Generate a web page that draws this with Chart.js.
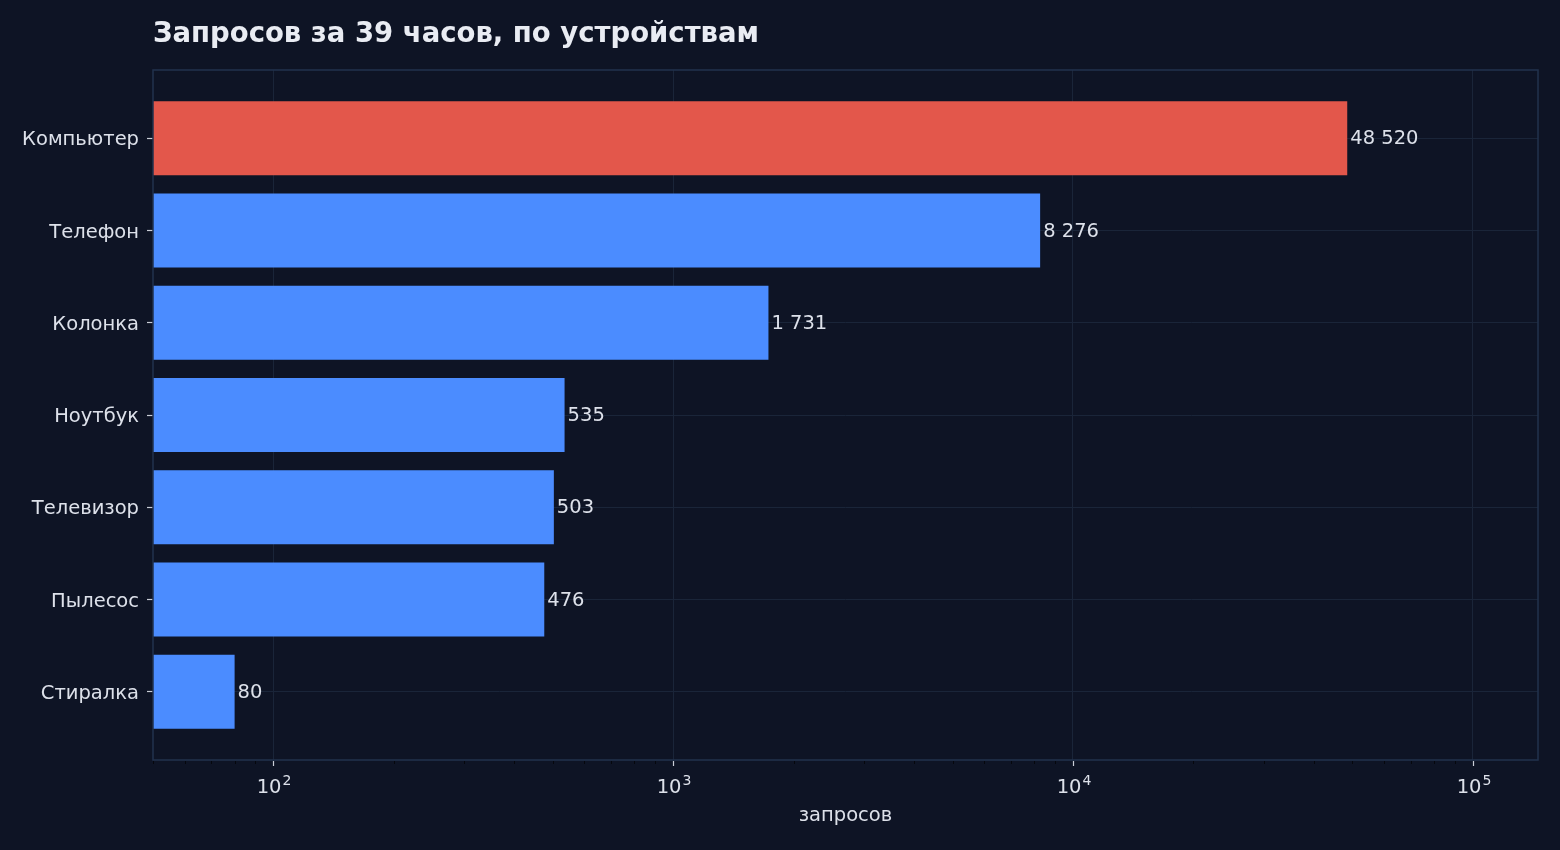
<!DOCTYPE html>
<html>
<head>
<meta charset="utf-8">
<script src="https://cdn.jsdelivr.net/npm/chart.js@4/dist/chart.umd.min.js"></script>
<style>
  html, body { margin: 0; padding: 0; background: #0e1425; }
  #wrap { width: 1560px; height: 850px; }
</style>
</head>
<body>
<div id="wrap"><canvas id="devChart" width="1560" height="850"></canvas></div>
<script>
const chartTitle = 'Запросов за 39 часов, по устройствам';
const devices = ['Компьютер', 'Телефон', 'Колонка', 'Ноутбук', 'Телевизор', 'Пылесос', 'Стиралка'];
const requests = [48520, 8276, 1731, 535, 503, 476, 80];
const majorTicks = [100, 1000, 10000, 100000];
const majorExp = ['2', '3', '4', '5'];
const minorTicks = [50, 60, 70, 80, 90, 200, 300, 400, 500, 600, 700, 800, 900,
  2000, 3000, 4000, 5000, 6000, 7000, 8000, 9000,
  20000, 30000, 40000, 50000, 60000, 70000, 80000, 90000];

const FONT = 'DejaVu Sans';
const gridColor = '#1a2539';
const frameColor = '#22324d';
const textColor = '#dde1ea';

function fmt(n) {
  return String(n).replace(/\B(?=(\d{3})+(?!\d))/g, ' ');
}

const topIdx = requests.indexOf(Math.max(...requests));

// title, frame, value labels, x ticks with superscript exponents
const decor = {
  id: 'decor',
  afterDraw(chart) {
    const { ctx, chartArea: a } = chart;
    const x = chart.scales.x;
    ctx.save();
    ctx.fillStyle = '#e9ecf3';
    ctx.font = 'bold 27.5px "' + FONT + '"';
    ctx.textBaseline = 'middle';
    ctx.textAlign = 'left';
    ctx.fillText(chartTitle, a.left, 35);

    ctx.strokeStyle = frameColor;
    ctx.lineWidth = 1.5;
    ctx.strokeRect(a.left, a.top, a.right - a.left, a.bottom - a.top);

    minorTicks.forEach(v => {
      const px = Math.round(x.getPixelForValue(v)) + 0.5;
      ctx.strokeStyle = '#05070d';
      ctx.lineWidth = 1;
      ctx.beginPath(); ctx.moveTo(px, a.bottom + 1); ctx.lineTo(px, a.bottom + 4); ctx.stroke();
    });
    majorTicks.forEach((v, i) => {
      const px = Math.round(x.getPixelForValue(v)) + 0.5;
      ctx.strokeStyle = '#c9cdd6';
      ctx.lineWidth = 1.2;
      ctx.beginPath(); ctx.moveTo(px, a.bottom + 1); ctx.lineTo(px, a.bottom + 6); ctx.stroke();

      ctx.fillStyle = textColor;
      ctx.textBaseline = 'alphabetic';
      ctx.font = '19.5px "' + FONT + '"';
      const wBase = ctx.measureText('10').width;
      ctx.font = '14px "' + FONT + '"';
      const wExp = ctx.measureText(majorExp[i]).width;
      const x0 = px - (wBase + wExp) / 2;
      ctx.font = '19.5px "' + FONT + '"';
      ctx.fillText('10', x0, a.bottom + 33);
      ctx.font = '14px "' + FONT + '"';
      ctx.fillText(majorExp[i], x0 + wBase + 1, a.bottom + 25);
    });

    ctx.fillStyle = textColor;
    ctx.font = '19.5px "' + FONT + '"';
    ctx.textBaseline = 'middle';
    ctx.textAlign = 'left';
    chart.getDatasetMeta(0).data.forEach((bar, i) => {
      ctx.fillText(fmt(requests[i]), bar.x + 3, bar.y + 1);
    });
    ctx.restore();
  }
};

new Chart(document.getElementById('devChart'), {
  type: 'bar',
  data: {
    datasets: [{
      data: requests.map((v, i) => ({ x: v, y: i })),
      backgroundColor: requests.map((v, i) => i === topIdx ? '#e3574b' : '#4b8cff'),
      borderWidth: 0,
      barPercentage: 0.8,
      categoryPercentage: 1.0
    }]
  },
  options: {
    indexAxis: 'y',
    responsive: false,
    animation: false,
    layout: { padding: { left: 0, top: 70, right: 22, bottom: 0 } },
    plugins: { legend: { display: false }, tooltip: { enabled: false } },
    scales: {
      x: {
        type: 'logarithmic',
        min: 50,
        max: 145560,
        bounds: 'data',
        afterBuildTicks: s => { s.ticks = majorTicks.map(v => ({ value: v })); },
        afterFit: s => { s.height = 90; },
        border: { display: false },
        grid: { drawTicks: false, color: gridColor, lineWidth: 1 },
        ticks: { display: false },
        title: {
          display: true,
          text: 'запросов',
          color: textColor,
          font: { family: FONT, size: 19.5 },
          padding: { top: 0, bottom: 22 }
        }
      },
      y: {
        type: 'linear',
        reverse: true,
        offset: false,
        min: -0.74,
        max: 6.74,
        bounds: 'data',
        afterBuildTicks: s => { s.ticks = devices.map((d, i) => ({ value: i })); },
        afterFit: s => { s.width = 153; },
        border: { display: false },
        grid: {
          offset: false,
          color: gridColor,
          lineWidth: 1,
          drawTicks: true,
          tickLength: 6,
          tickColor: '#c9cdd6',
          tickWidth: 1.2
        },
        ticks: {
          autoSkip: false,
          padding: 8,
          labelOffset: 2,
          color: textColor,
          font: { family: FONT, size: 19.5 },
          callback: v => devices[v]
        }
      }
    }
  },
  plugins: [decor]
});
</script>
</body>
</html>
